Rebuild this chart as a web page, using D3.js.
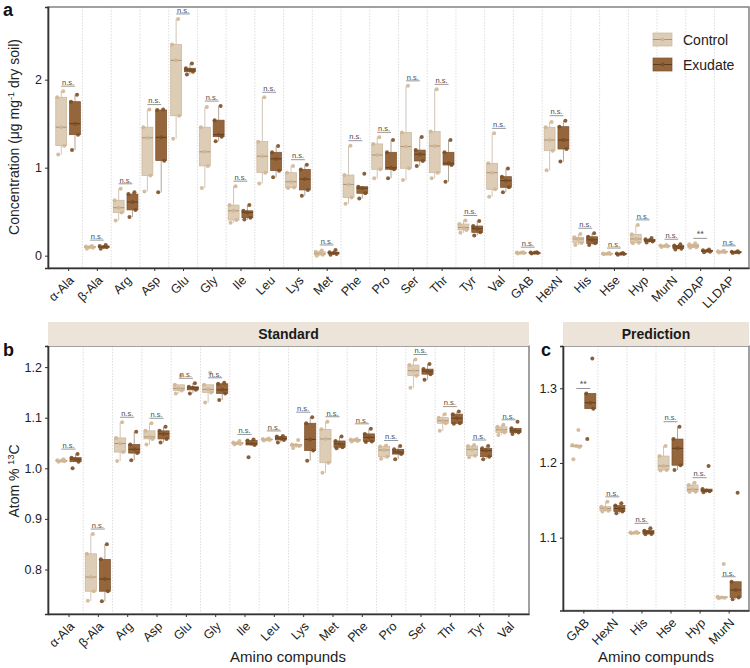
<!DOCTYPE html>
<html>
<head>
<meta charset="utf-8">
<script src="https://cdn.jsdelivr.net/npm/d3@7"></script>
<style>
body { margin: 0; background: #fff; }
svg { display: block; }
text { font-family: "Liberation Sans", Arial, sans-serif; }
</style>
</head>
<body>
<svg id="chart" width="750" height="668"></svg>
<script>
// ---- panel a : concentration ----
var catsA = ["α-Ala", "β-Ala", "Arg", "Asp", "Glu", "Gly", "Ile", "Leu", "Lys", "Met", "Phe", "Pro",
             "Ser", "Thr", "Tyr", "Val", "GAB", "HexN", "His", "Hse", "Hyp", "MurN", "mDAP", "LLDAP"];
var ctrlA = [
  [1.15, 1.25, 1.46, 1.80, 1.87], [0.08, 0.09, 0.10, 0.105, 0.11], [0.40, 0.49, 0.545, 0.63, 0.76],
  [0.73, 0.91, 1.34, 1.46, 1.66], [1.33, 1.59, 2.22, 2.40, 2.69], [0.77, 1.02, 1.18, 1.46, 1.69],
  [0.375, 0.405, 0.51, 0.575, 0.79], [0.82, 0.943, 1.13, 1.296, 1.80], [0.77, 0.775, 0.84, 0.943, 1.02],
  [0.0, 0.01, 0.025, 0.045, 0.06], [0.59, 0.66, 0.81, 0.917, 1.25], [0.88, 0.982, 1.144, 1.27, 1.345],
  [0.86, 0.993, 1.24, 1.40, 1.93], [0.88, 0.943, 1.246, 1.41, 1.89], [0.26, 0.292, 0.32, 0.36, 0.40],
  [0.67, 0.754, 0.943, 1.05, 1.39], [0.025, 0.03, 0.033, 0.036, 0.04], [0.97, 1.193, 1.315, 1.46, 1.52],
  [0.12, 0.145, 0.19, 0.21, 0.245], [0.015, 0.02, 0.022, 0.025, 0.03], [0.14, 0.148, 0.19, 0.243, 0.35],
  [0.10, 0.105, 0.11, 0.115, 0.12], [0.09, 0.095, 0.11, 0.13, 0.14], [0.035, 0.04, 0.045, 0.05, 0.055]
];
var exuA = [
  [1.2, 1.375, 1.50, 1.75, 1.83], [0.08, 0.095, 0.10, 0.11, 0.12], [0.44, 0.52, 0.61, 0.70, 0.72],
  [0.72, 1.08, 1.345, 1.655, 1.66], [2.06, 2.09, 2.11, 2.13, 2.185], [1.30, 1.352, 1.375, 1.54, 1.70],
  [0.41, 0.432, 0.49, 0.51, 0.575], [0.89, 0.966, 1.10, 1.175, 1.246], [0.68, 0.747, 0.87, 0.98, 1.034],
  [0.01, 0.02, 0.03, 0.04, 0.065], [0.65, 0.709, 0.766, 0.784, 0.93], [0.88, 0.982, 1.0, 1.175, 1.315],
  [1.02, 1.076, 1.152, 1.20, 1.35], [0.84, 1.03, 1.05, 1.175, 1.315], [0.23, 0.265, 0.307, 0.337, 0.394],
  [0.72, 0.777, 0.853, 0.898, 0.99], [0.025, 0.03, 0.032, 0.035, 0.04], [1.07, 1.212, 1.315, 1.466, 1.534],
  [0.12, 0.14, 0.18, 0.215, 0.255], [0.01, 0.018, 0.022, 0.026, 0.03], [0.15, 0.16, 0.175, 0.186, 0.20],
  [0.07, 0.08, 0.10, 0.115, 0.13], [0.04, 0.045, 0.055, 0.062, 0.07], [0.03, 0.035, 0.04, 0.045, 0.05]
];
var sigA = ["n.s.", "n.s.", "n.s.", "n.s.", "n.s.", "n.s.", "n.s.", "n.s.", "n.s.", "n.s.", "n.s.", "n.s.",
            "n.s.", "n.s.", "n.s.", "n.s.", "n.s.", "n.s.", "n.s.", "n.s.", "n.s.", "n.s.", "**", "n.s."];
var ticksA = [0, 1, 2];

// ---- panel b : atom % 13C, standard ----
var catsB = ["α-Ala", "β-Ala", "Arg", "Asp", "Glu", "Gly", "Ile", "Leu", "Lys", "Met", "Phe", "Pro",
             "Ser", "Thr", "Tyr", "Val"];
var ctrlB = [
  [1.013, 1.014, 1.015, 1.016, 1.018], [0.738, 0.757, 0.785, 0.831, 0.870], [1.0145, 1.032, 1.049, 1.06, 1.091],
  [1.047, 1.058, 1.062, 1.074, 1.089], [1.148, 1.1535, 1.158, 1.165, 1.183], [1.13, 1.15, 1.156, 1.165, 1.189],
  [1.047, 1.048, 1.0495, 1.051, 1.054], [1.055, 1.056, 1.057, 1.058, 1.059], [1.040, 1.044, 1.046, 1.047, 1.056],
  [0.991, 1.011, 1.058, 1.077, 1.092], [1.053, 1.054, 1.056, 1.057, 1.058], [1.019, 1.023, 1.036, 1.043, 1.045],
  [1.159, 1.183, 1.193, 1.204, 1.215], [1.074, 1.089, 1.094, 1.1, 1.107], [1.022, 1.025, 1.0375, 1.044, 1.046],
  [1.066, 1.0705, 1.076, 1.082, 1.086]
];
var exuB = [
  [1.0, 1.013, 1.018, 1.021, 1.028], [0.737, 0.757, 0.781, 0.82, 0.850], [1.016, 1.030, 1.0375, 1.047, 1.072],
  [1.051, 1.058, 1.068, 1.074, 1.082], [1.148, 1.155, 1.159, 1.161, 1.168], [1.135, 1.148, 1.155, 1.167, 1.169],
  [1.022, 1.046, 1.049, 1.055, 1.057], [1.051, 1.056, 1.059, 1.063, 1.064], [1.015, 1.035, 1.057, 1.089, 1.101],
  [1.0395, 1.0415, 1.048, 1.054, 1.063], [1.052, 1.053, 1.061, 1.068, 1.078], [1.018, 1.028, 1.032, 1.0375, 1.044],
  [1.175, 1.186, 1.192, 1.196, 1.206], [1.088, 1.089, 1.099, 1.107, 1.112], [1.018, 1.023, 1.035, 1.0395, 1.044],
  [1.068, 1.0705, 1.074, 1.079, 1.092]
];
var sigB = ["n.s.", "n.s.", "n.s.", "n.s.", "n.s.", "n.s.", "n.s.", "n.s.", "n.s.", "n.s.", "n.s.", "n.s.",
            "n.s.", "n.s.", "n.s.", "n.s."];
var ticksB = [0.8, 0.9, 1.0, 1.1, 1.2];

// ---- panel c : atom % 13C, prediction ----
var catsC = ["GAB", "HexN", "His", "Hse", "Hyp", "MurN"];
var ctrlC = [
  [1.205, 1.2215, 1.2227, 1.224, 1.244], [1.135, 1.136, 1.139, 1.1415, 1.148], [1.106, 1.1063, 1.1067, 1.107, 1.1075],
  [1.19, 1.1906, 1.196, 1.2093, 1.2227], [1.161, 1.1616, 1.1647, 1.1705, 1.1736], [1.019, 1.0195, 1.02, 1.021, 1.0647]
];
var exuC = [
  [1.232, 1.2727, 1.2807, 1.293, 1.34], [1.1326, 1.135, 1.139, 1.143, 1.146], [1.1045, 1.105, 1.1076, 1.1094, 1.1125],
  [1.1906, 1.197, 1.2196, 1.232, 1.2486], [1.1607, 1.162, 1.163, 1.165, 1.196], [1.0174, 1.02, 1.03, 1.041, 1.16]
];
var sigC = ["**", "n.s.", "n.s.", "n.s.", "n.s.", "n.s."];
var ticksC = [1.1, 1.2, 1.3];

var groups = ["Control", "Exudate"];

var svg = d3.select("#chart");

var styles = {
  Control: { fill: "#decdb6", stroke: "#c9b59b", med: "#a99079", whisk: "#cfc6bb", pt: "#d2b693" },
  Exudate: { fill: "#95663b", stroke: "#7a522e", med: "#5b3b1d", whisk: "#b3a79b", pt: "#7c4e25" }
};
var jit = [-3, 3, 0, -4, 2, 4, -2];

function boxStats(vals) {
  var s = vals.slice().sort(d3.ascending);
  var q1 = d3.quantile(s, 0.25), med = d3.quantile(s, 0.5), q3 = d3.quantile(s, 0.75);
  var iqr = q3 - q1;
  var inside = s.filter(function (v) { return v >= q1 - 1.5 * iqr - 1e-9 && v <= q3 + 1.5 * iqr + 1e-9; });
  return { q1: q1, med: med, q3: q3, lo: d3.min(inside), hi: d3.max(inside) };
}

function drawPanel(o) {
  var x = d3.scalePoint().domain(o.cats).range([o.x0, o.x1]).padding(0.7);
  var y = d3.scaleLinear().domain(o.ydom).range([o.y1, o.y0]);
  var step = x.step();
  var bw = step * 0.38, off = step * 0.24;
  var g = svg.append("g");

  // dotted separators between categories
  g.selectAll(".sep").data(o.cats.slice(1)).enter().append("line")
    .attr("x1", function (d) { return x(d) - step / 2; })
    .attr("x2", function (d) { return x(d) - step / 2; })
    .attr("y1", o.y0).attr("y2", o.y1)
    .attr("stroke", "#d4d4d4").attr("stroke-width", 0.8)
    .attr("stroke-dasharray", "1.5,1.5");

  // frame (under the marks)
  g.append("rect").attr("x", o.x0).attr("y", o.y0).attr("width", o.x1 - o.x0).attr("height", o.y1 - o.y0)
    .attr("fill", "none").attr("stroke", "#7a7a7a").attr("stroke-width", 1.4);

  // boxes
  o.cats.forEach(function (c, i) {
    var sets = [o.ctrl[i], o.exu[i]];
    var top = -Infinity;
    sets.forEach(function (vals, k) {
      var st = styles[groups[k]];
      var cx = x(c) + (k === 0 ? -off : off);
      var b = boxStats(vals);
      top = Math.max(top, b.hi);
      g.append("line").attr("x1", cx).attr("x2", cx).attr("y1", y(b.q3)).attr("y2", y(b.hi))
        .attr("stroke", st.whisk).attr("stroke-width", 1);
      g.append("line").attr("x1", cx).attr("x2", cx).attr("y1", y(b.q1)).attr("y2", y(b.lo))
        .attr("stroke", st.whisk).attr("stroke-width", 1);
      g.append("rect").attr("x", cx - bw / 2).attr("width", bw)
        .attr("y", y(b.q3)).attr("height", Math.max(0.8, y(b.q1) - y(b.q3)))
        .attr("fill", st.fill).attr("stroke", st.stroke).attr("stroke-width", 0.7);
      g.append("line").attr("x1", cx - bw / 2).attr("x2", cx + bw / 2)
        .attr("y1", y(b.med)).attr("y2", y(b.med))
        .attr("stroke", st.med).attr("stroke-width", 1);
      g.selectAll(null).data(vals).enter().append("circle")
        .attr("cx", function (d, j) { return cx + jit[j % jit.length]; })
        .attr("cy", function (d) { return y(d); })
        .attr("r", 2)
        .attr("fill", st.pt).attr("fill-opacity", 0.9);
    });
    // significance mark
    var ly = y(top) - 5;
    g.append("line").attr("x1", x(c) - off).attr("x2", x(c) + off)
      .attr("y1", ly).attr("y2", ly).attr("stroke", "#8a8a8a").attr("stroke-width", 0.9);
    g.append("text").attr("x", x(c)).attr("y", ly - 1.2)
      .attr("text-anchor", "middle").attr("font-size", o.sig[i] === "**" ? 9 : 7.5)
      .attr("text-rendering", "geometricPrecision")
      .attr("fill", "#444").text(o.sig[i]);
  });

  // axes
  var ya = g.append("g").attr("transform", "translate(" + o.x0 + ",0)")
    .call(d3.axisLeft(y).tickValues(o.ticks).tickSize(3).tickFormat(o.fmt));
  ya.select(".domain").attr("stroke", "#333").attr("stroke-width", 1.6);
  ya.selectAll(".tick line").attr("stroke", "#333");
  ya.selectAll("text").attr("font-size", 12.5).attr("fill", "#222")
    .attr("font-family", "Liberation Sans, Arial, sans-serif");

  var xa = g.append("g").attr("transform", "translate(0," + o.y1 + ")")
    .call(d3.axisBottom(x).tickSize(3).tickSizeOuter(0));
  xa.select(".domain").attr("stroke", "#333").attr("stroke-width", 1.6);
  xa.selectAll(".tick line").attr("stroke", "#333");
  xa.selectAll("text").attr("font-size", 12.5).attr("fill", "#222")
    .attr("font-family", "Liberation Sans, Arial, sans-serif")
    .attr("x", 0).attr("y", 0).attr("dy", "0.35em")
    .attr("text-anchor", "end")
    .attr("transform", "translate(3,10) rotate(-45)");
}

drawPanel({ cats: catsA, ctrl: ctrlA, exu: exuA, sig: sigA, ticks: ticksA, fmt: d3.format("d"),
  x0: 48, x1: 749, y0: 7, y1: 268, ydom: [-0.14, 2.826] });
drawPanel({ cats: catsB, ctrl: ctrlB, exu: exuB, sig: sigB, ticks: ticksB, fmt: d3.format(".1f"),
  x0: 48, x1: 529, y0: 346, y1: 614, ydom: [0.712, 1.2417] });
drawPanel({ cats: catsC, ctrl: ctrlC, exu: exuC, sig: sigC, ticks: ticksC, fmt: d3.format(".1f"),
  x0: 563, x1: 749, y0: 346, y1: 610.5, ydom: [1.0025, 1.3566] });

// facet strips
[["Standard", 48, 529], ["Prediction", 563, 749]].forEach(function (s) {
  svg.append("rect").attr("x", s[1]).attr("y", 322).attr("width", s[2] - s[1]).attr("height", 24)
    .attr("fill", "#ede4d9");
  svg.append("text").attr("x", (s[1] + s[2]) / 2).attr("y", 339).attr("text-anchor", "middle")
    .attr("font-size", 14).attr("font-weight", "bold").attr("fill", "#1a1a1a").text(s[0]);
});

// panel letters
[["a", 3, 16], ["b", 3, 356], ["c", 541, 356]].forEach(function (p) {
  svg.append("text").attr("x", p[1]).attr("y", p[2]).attr("font-size", 18)
    .attr("font-weight", "bold").attr("fill", "#111").text(p[0]);
});

// axis titles
var ta = svg.append("text").attr("transform", "translate(19,137) rotate(-90)")
  .attr("text-anchor", "middle").attr("font-size", 14).attr("fill", "#222");
ta.append("tspan").text("Concentration (μg mg");
ta.append("tspan").attr("font-size", 9).attr("dy", -5).text("-1");
ta.append("tspan").attr("dy", 5).text(" dry soil)");

var tb = svg.append("text").attr("transform", "translate(19,481) rotate(-90)")
  .attr("text-anchor", "middle").attr("font-size", 14).attr("fill", "#222");
tb.append("tspan").text("Atom % ");
tb.append("tspan").attr("font-size", 9).attr("dy", -5).text("13");
tb.append("tspan").attr("dy", 5).text("C");

[[288, "Amino compunds"], [656, "Amino compunds"]].forEach(function (t) {
  svg.append("text").attr("x", t[0]).attr("y", 662).attr("text-anchor", "middle")
    .attr("font-size", 15).attr("fill", "#222").text(t[1]);
});

// legend
groups.forEach(function (gname, i) {
  var st = styles[gname];
  var ly = 33 + i * 25;
  svg.append("rect").attr("x", 653).attr("y", ly).attr("width", 19).attr("height", 13)
    .attr("fill", st.fill).attr("stroke", st.stroke).attr("stroke-width", 0.7);
  svg.append("line").attr("x1", 653).attr("x2", 672).attr("y1", ly + 6.5).attr("y2", ly + 6.5)
    .attr("stroke", st.med).attr("stroke-width", 1);
  svg.append("circle").attr("cx", 662.5).attr("cy", ly + 6.5).attr("r", 1.9).attr("fill", st.pt);
  svg.append("text").attr("x", 683).attr("y", ly + 11.5).attr("font-size", 14)
    .attr("fill", "#222").text(gname);
});
</script>
</body>
</html>
